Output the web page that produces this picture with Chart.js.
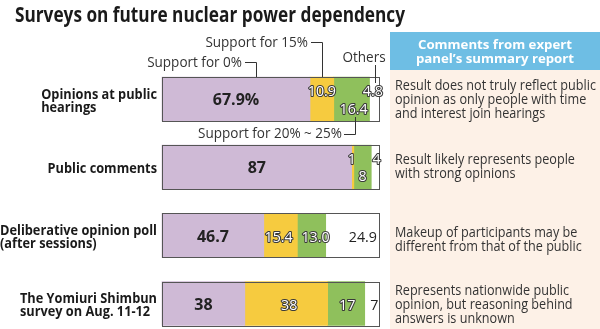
<!DOCTYPE html>
<html><head><meta charset="utf-8">
<script src="https://cdn.jsdelivr.net/npm/chart.js@4"></script>
<style>html,body{margin:0;padding:0;background:#fff;}canvas{display:block;}</style>
</head><body>
<canvas id="c" width="600" height="329"></canvas>
<script>
const titleText = "Surveys on future nuclear power dependency";
const categories = [["Opinions at public","hearings"],["Public comments"],["Deliberative opinion poll","(after sessions)"],["The Yomiuri Shimbun","survey on Aug. 11-12"]];
const seriesNames = ["Support for 0%","Support for 15%","Support for 20% ~ 25%","Others"];
const support0 = [67.9, 87, 46.7, 38];
const support15 = [10.9, 1, 15.4, 38];
const support20to25 = [16.4, 8, 13.0, 17];
const others = [4.8, 4, 24.9, 7];
const decimals = [1, 0, 1, 0];
const panelTitle = ["Comments from expert","panel\u2019s summary report"];
const comments = [
 ["Result does not truly reflect public","opinion as only people with time","and interest join hearings"],
 ["Result likely represents people","with strong opinions"],
 ["Makeup of participants may be","different from that of the public"],
 ["Represents nationwide public","opinion, but reasoning behind","answers is unknown"]
];

const FONT = '"Open Sans", "Noto Sans", sans-serif';
const colors = ['#cfbad6', '#f6cb3f', '#8fc05c', '#ffffff'];
const DARK = '#222';

// per label placement: [dx, dy(baseline from bar centre), mode]
const labelPlace = [
  [[0,6,'bold'],[0,6,'bold'],[0,7,'bold'],[0,6,'bold']],
  [[0,-3.5,'outline'],[-1,-3,'outline'],[-2,7,'outline'],[3,6,'outline']],
  [[2,15,'outline'],[0,14,'outline'],[4,7,'outline'],[1,6,'outline']],
  [[-2,-3.5,'outline'],[1,-3,'outline'],[10,7,'plain'],[2,6,'plain']]
];

function txt(ctx, s, x, y, o) {
  ctx.save();
  ctx.font = o.font;
  const w = ctx.measureText(s).width;
  const sx = o.w ? o.w / w : (o.sx || 1);
  ctx.translate(x, y);
  ctx.scale(sx, 1);
  ctx.textAlign = o.align || 'left';
  ctx.textBaseline = 'alphabetic';
  if (o.stroke) {
    ctx.lineWidth = o.lw || 2;
    ctx.strokeStyle = o.stroke;
    ctx.lineJoin = 'round';
    ctx.strokeText(s, 0, 0);
  }
  ctx.fillStyle = o.color || DARK;
  ctx.fillText(s, 0, 0);
  ctx.restore();
  return w * sx;
}
function factor(ctx, font, s, target) {
  ctx.save(); ctx.font = font; const w = ctx.measureText(s).width; ctx.restore();
  return target / w;
}
function line(ctx, pts) {
  ctx.save();
  ctx.strokeStyle = '#333'; ctx.lineWidth = 1;
  ctx.beginPath();
  ctx.moveTo(pts[0][0], pts[0][1]);
  for (let i = 1; i < pts.length; i++) ctx.lineTo(pts[i][0], pts[i][1]);
  ctx.stroke();
  ctx.restore();
}

const decor = {
  id: 'decor',
  beforeDraw(chart) {
    const ctx = chart.ctx;
    ctx.save();
    ctx.fillStyle = '#fff';
    ctx.fillRect(0, 0, chart.width, chart.height);
    // title
    txt(ctx, titleText, 15, 22, {font: 'bold 22px ' + FONT, w: 390, color: '#1a1a1a'});
    // right panel
    ctx.fillStyle = '#fdf1e7';
    ctx.fillRect(390, 70, 210, 259);
    ctx.fillStyle = '#6ebee4';
    ctx.fillRect(390, 32, 210, 38);
    const hf = 'bold 13px ' + FONT;
    const hs = factor(ctx, hf, panelTitle[0], 154);
    txt(ctx, panelTitle[0], 495, 49, {font: hf, sx: hs, align: 'center', color: '#fff'});
    txt(ctx, panelTitle[1], 495, 62.5, {font: hf, sx: hs, align: 'center', color: '#fff'});
    const bf = '14px ' + FONT;
    const bs = factor(ctx, bf, comments[0][0], 201);
    const firstBase = [90, 164, 237, 295];
    comments.forEach((lines, i) => {
      lines.forEach((l, k) => {
        txt(ctx, l, 395, firstBase[i] + k * 14, {font: bf, sx: bs, color: '#333'});
      });
    });
    ctx.restore();
  },
  afterDatasetsDraw(chart) {
    const ctx = chart.ctx;
    const xs = chart.scales.x, ys = chart.scales.y;
    const metas = [0,1,2,3].map(i => chart.getDatasetMeta(i));
    // bar outlines
    ctx.save();
    ctx.strokeStyle = '#555'; ctx.lineWidth = 1;
    categories.forEach((c, i) => {
      const y = ys.getPixelForValue(i);
      const x0 = xs.getPixelForValue(0), x1 = xs.getPixelForValue(100);
      ctx.strokeRect(Math.round(x0) + 0.5, Math.round(y - 22) + 0.5, Math.round(x1 - x0) - 1, 44);
    });
    ctx.restore();
    // value labels
    const series = [support0, support15, support20to25, others];
    series.forEach((arr, d) => {
      arr.forEach((v, i) => {
        const el = metas[d].data[i];
        const cx = (el.x + el.base) / 2;
        const [dx, dy, mode] = labelPlace[d][i];
        let s = v.toFixed(decimals[i]);
        if (d === 0 && i === 0) s += '%';
        const y = el.y + dy;
        if (mode === 'bold') txt(ctx, s, cx + dx, y, {font: 'bold 16px ' + FONT, align: 'center', color: DARK});
        else if (mode === 'outline') txt(ctx, s, cx + dx, y, {font: '15px ' + FONT, align: 'center', color: '#fff', stroke: '#3a3a3a', lw: 2.2, sx: 0.95});
        else txt(ctx, s, cx + dx, y, {font: '15px ' + FONT, align: 'center', color: DARK, sx: 0.95});
      });
    });
    // annotations
    const af = '14px ' + FONT;
    const as = factor(ctx, af, seriesNames[2], 144);
    const top0 = metas[0].data[0].y - 22, bot0 = metas[0].data[0].y + 22;
    // Support for 0%
    const x0 = xs.getPixelForValue(43);
    txt(ctx, seriesNames[0], 242, 67, {font: af, sx: as, align: 'right', color: '#333'});
    line(ctx, [[245, 62.5], [Math.round(x0) + 0.5, 62.5], [Math.round(x0) + 0.5, top0]]);
    // Support for 15%
    const e1 = metas[1].data[0];
    const x15 = Math.round((e1.x + e1.base) / 2) + 0.5;
    txt(ctx, seriesNames[1], 308, 46.5, {font: af, sx: as, align: 'right', color: '#333'});
    line(ctx, [[311, 42.5], [x15, 42.5], [x15, top0]]);
    // Others
    const e3 = metas[3].data[0];
    const xo = Math.round((e3.x + e3.base) / 2) + 0.5;
    txt(ctx, seriesNames[3], 364, 62, {font: af, sx: as, align: 'center', color: '#333'});
    line(ctx, [[xo, 65], [xo, top0 + 6]]);
    // Support for 20% ~ 25%
    const e2 = metas[2].data[0];
    const x20 = Math.round((e2.x + e2.base) / 2) + 3.5;
    txt(ctx, seriesNames[2], 342, 138, {font: af, sx: as, align: 'right', color: '#333'});
    line(ctx, [[344, 134.5], [x20, 134.5], [x20, bot0 - 4]]);
    // category labels
    const cf = 'bold 14px ' + FONT;
    const cs = factor(ctx, cf, categories[2][0], 157);
    categories.forEach((lines, i) => {
      const cy = ys.getPixelForValue(i);
      ctx.save(); ctx.font = cf;
      const maxW = Math.max(...lines.map(l => ctx.measureText(l).width)) * cs;
      ctx.restore();
      const left = 157 - maxW;
      lines.forEach((l, k) => {
        const by = cy - (lines.length - 1) * 13 / 2 + 6 + k * 13;
        txt(ctx, l, left, by, {font: cf, sx: cs, color: '#1a1a1a'});
      });
    });
  }
};

const ds = (label, data, color) => ({
  label, data, backgroundColor: color, borderWidth: 0, barThickness: 44, clip: false
});

new Chart(document.getElementById('c'), {
  type: 'bar',
  data: {
    labels: categories.map(c => c.join(' ')),
    datasets: [
      ds(seriesNames[0], support0, colors[0]),
      ds(seriesNames[1], support15, colors[1]),
      ds(seriesNames[2], support20to25, colors[2]),
      ds(seriesNames[3], others, colors[3])
    ]
  },
  options: {
    indexAxis: 'y',
    responsive: false,
    animation: false,
    events: [],
    layout: {padding: {left: 162, right: 220, top: 99, bottom: 25.5}},
    plugins: {legend: {display: false}, tooltip: {enabled: false}},
    scales: {
      x: {stacked: true, min: 0, max: 100, display: false},
      y: {stacked: true, display: false, offset: false}
    }
  },
  plugins: [decor]
});
</script>
</body></html>
